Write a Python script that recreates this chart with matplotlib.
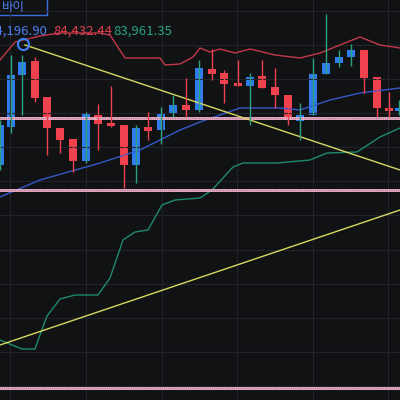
import matplotlib.pyplot as plt
import numpy as np

plt.rcParams['font.family'] = ['Noto Sans CJK KR', 'DejaVu Sans']

# candle data (chart units, screen-like scale: larger = lower)
opens  = [165, 127, 75, 61, 97, 128, 139, 161, 115, 123, 125, 165, 127, 130, 113, 105, 110,
          69, 73, 83, 86, 76, 87, 95, 121, 115, 74, 63, 57, 50, 77, 108, 111]
closes = [125, 75, 62, 98, 128, 140, 161, 114, 124, 126, 165, 128, 131, 113, 105, 110, 68,
          74, 84, 86, 77, 88, 95, 120, 115, 74, 63, 57, 50, 78, 108, 111, 108]
highs  = [120, 55, 55, 57, 97, 128, 139, 112, 104, 86, 125, 125, 112, 107, 95, 78, 60,
          49, 70, 60, 73, 60, 68, 95, 103, 58, 14, 50, 44, 50, 77, 92, 100]
lows   = [170, 133, 115, 102, 155, 153, 172, 163, 150, 127, 188, 183, 140, 144, 117, 117, 112,
          80, 103, 86, 125, 88, 108, 125, 140, 115, 74, 67, 66, 93, 117, 117, 115]
xs = [0, 11, 22, 35, 47, 60, 73, 86, 98, 111, 124, 136, 148, 161, 173, 186, 199,
      212, 224, 238, 250, 262, 275, 288, 300, 313, 326, 339, 351, 364, 377, 389, 399]

upper_x = [0, 15, 40, 60, 100, 110, 125, 160, 165, 180, 193, 200, 210, 220, 235, 250, 275, 300, 320, 340, 360, 380, 400]
upper_y = [60, 42, 36, 33, 33, 35, 58, 58, 65, 64, 57, 48, 52, 49, 53, 49, 55, 58, 53, 45, 37, 45, 48]
mid_x = [0, 40, 100, 140, 160, 180, 200, 240, 280, 300, 330, 360, 400]
mid_y = [197, 180, 163, 150, 140, 130, 122, 108, 108, 110, 100, 93, 88]
low_x = [0, 12, 22, 35, 40, 47, 60, 75, 98, 110, 123, 135, 148, 162, 175, 200, 212,
         233, 243, 277, 310, 327, 357, 380, 400]
low_y = [340, 345, 349, 349, 335, 316, 299, 295, 295, 278, 240, 232, 230, 205, 200, 198, 190,
         167, 163, 163, 160, 153, 152, 137, 128]

levels = [118, 190, 388]
labels = ["84,196.90", "84,432.44", "83,961.35"]

BLUE = '#2f7bf0'
RED = '#f0414e'

fig = plt.figure(figsize=(4, 4), dpi=100)
ax = fig.add_axes([0, 0, 1, 1])
ax.set_facecolor('#111214')
fig.patch.set_facecolor('#111214')
ax.set_xlim(0, 400)
ax.set_ylim(400, 0)
ax.axis('off')

for gx in [10, 86, 162, 237, 313, 388]:
    ax.axvline(gx, color='#222428', lw=0.8)
for gy in [11, 45, 79, 113, 147, 181, 215, 250, 284, 318, 352, 386]:
    ax.axhline(gy, color='#222428', lw=0.8)

ax.plot(upper_x, upper_y, color='#c2384a', lw=1)
ax.plot(mid_x, mid_y, color='#3658c8', lw=1)
ax.plot(low_x, low_y, color='#1f8a6a', lw=1)

for lv in levels:
    ax.axhline(lv, color='#f2b8d0', lw=2)
    ax.axhline(lv, color='#8b3050', lw=0.5, ls=':')

ax.plot([25, 400], [45, 170], color='#d8d860', lw=1)
ax.plot([0, 400], [345, 210], color='#d8d860', lw=1)

for x, o, c, h, l in zip(xs, opens, closes, highs, lows):
    col = BLUE if c < o else RED
    ax.vlines(x, h, l, color='#2aa37e' if col == BLUE else col, lw=1)
    ax.bar(x, abs(o - c), bottom=min(o, c), width=8, color=col)

ax.plot(23, 44, 'o', ms=8, mfc='none', mec='#3b82f6', mew=1.5)

ax.text(47, 31, labels[0], color='#4d7ff0', fontsize=9.5, va='center', ha='right')
ax.text(53, 31, labels[1], color='#e0404e', fontsize=9.5, va='center')
ax.text(113, 31, labels[2], color='#2aa37e', fontsize=9.5, va='center')
ax.add_patch(plt.Rectangle((-10, -10), 57, 25, fill=False, ec='#3b6fe0', lw=1))
ax.text(2, 7, "바이", color='#4d7ff0', fontsize=9, va='center')

fig.savefig('out.png', dpi=100, facecolor=fig.get_facecolor())
